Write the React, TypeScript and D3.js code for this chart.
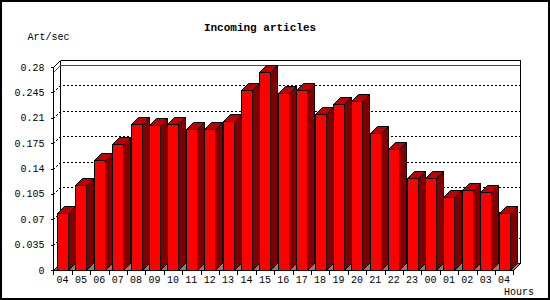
import React from "react";
import * as d3 from "d3";

const hours = ["04","05","06","07","08","09","10","11","12","13","14","15","16","17","18","19","20","21","22","23","00","01","02","03","04"];
const values = [0.0783,0.117,0.1515,0.174,0.201,0.2,0.201,0.194,0.194,0.2053,0.248,0.273,0.244,0.248,0.215,0.229,0.233,0.189,0.1666,0.1266,0.1266,0.1004,0.11,0.1073,0.0783];
const yTicks = [0,0.035,0.07,0.105,0.14,0.175,0.21,0.245,0.28];
const yTickLabels = ["0","0.035","0.07","0.105","0.14","0.175","0.21","0.245","0.28"];
const title = "Incoming articles";
const yTitle = "Art/sec";
const xTitle = "Hours";

const W = 550, H = 300;
const DX = 7, DY = 7;
const FONT = "'Liberation Mono', 'DejaVu Sans Mono', monospace";
const p = (v: number) => Math.round(v) + 0.5;

export default function App() {
  const idx = hours.map((_, i) => String(i));
  const x = d3.scaleBand<string>().domain(idx).range([53.3, 513.3]).padding(0);
  const y = d3.scaleLinear().domain([0, 0.28]).range([270, 67]);
  const left = p(x.range()[0]);
  const right = p(x.range()[1]);
  const base = p(y(0));
  const top = p(y(0.28));
  const maxV = d3.max(values) as number;
  const barW = 11;

  return (
    <svg width={W} height={H} style={{ position: "absolute", left: 0, top: 0, display: "block", background: "#fff" }}>
      <rect x={1} y={1} width={W - 2} height={H - 2} fill="#fff" stroke="#000" strokeWidth={2} />
      {/* back wall frame */}
      <g shapeRendering="crispEdges" stroke="#000" strokeWidth={1} fill="none">
        <line x1={left + DX} y1={top - DY} x2={right + DX} y2={top - DY} />
        <line x1={right + DX} y1={top - DY} x2={right + DX} y2={base - DY} />
        <line x1={left + DX} y1={top - DY} x2={left + DX} y2={base - DY} />
      </g>
      {/* gridlines */}
      <g stroke="#000" strokeWidth={1} fill="none" strokeDasharray="2,2">
        {yTicks.slice(1, -1).map((t, i) => {
          const yy = p(y(t));
          return <polyline key={i} points={`${left},${yy} ${left + DX},${yy - DY} ${right + DX},${yy - DY}`} shapeRendering="crispEdges" />;
        })}
      </g>
      {/* max line */}
      <polyline points={`${left},${p(y(maxV))} ${left + DX},${p(y(maxV)) - DY} ${right + DX},${p(y(maxV)) - DY}`} fill="none" stroke="#ff0000" strokeWidth={1} />
      {/* left wall top edge */}
      <line x1={left} y1={top} x2={left + DX} y2={top - DY} stroke="#000" strokeWidth={1} />
      {/* floor */}
      <polygon points={`${left},${base} ${right},${base} ${right + DX},${base - DY} ${left + DX},${base - DY}`} fill="#808080" stroke="#000" strokeWidth={1} />
      {/* bars */}
      <g stroke="#000" strokeWidth={1} strokeLinejoin="miter">
        {values.map((v, i) => {
          const cx = (x(String(i)) as number) + x.bandwidth() / 2;
          const x0 = p(cx - barW / 2);
          const x1 = x0 + barW;
          const yt = p(y(v));
          return (
            <g key={i}>
              <polygon points={`${x1},${yt} ${x1 + DX},${yt - DY} ${x1 + DX},${base - DY} ${x1},${base}`} fill="#800000" />
              <polygon points={`${x0},${yt} ${x0 + DX},${yt - DY} ${x1 + DX},${yt - DY} ${x1},${yt}`} fill="#c00000" />
              <rect x={x0} y={yt} width={barW} height={base - yt} fill="#ff0000" shapeRendering="crispEdges" />
            </g>
          );
        })}
      </g>
      {/* axes */}
      <g shapeRendering="crispEdges" stroke="#000" strokeWidth={1}>
        <line x1={left} y1={top} x2={left} y2={base + 0.5} />
        <line x1={left} y1={base} x2={right} y2={base} />
        {yTicks.map((t, i) => (
          <line key={"yt" + i} x1={left - 3} y1={p(y(t))} x2={left} y2={p(y(t))} />
        ))}
        {d3.range(hours.length + 1).map((i) => {
          const xx = p(53.3 + i * x.bandwidth());
          return <line key={"xt" + i} x1={xx} y1={base} x2={xx} y2={base + 4} />;
        })}
      </g>
      <line x1={right} y1={base} x2={right + DX} y2={base - DY} stroke="#000" strokeWidth={1} />
      {/* labels */}
      <g fontFamily={FONT} fontSize={10} fill="#000">
        {yTicks.map((t, i) => (
          <text key={"yl" + i} x={44.5} y={y(t) + 3.5} textAnchor="end">{yTickLabels[i]}</text>
        ))}
        {hours.map((h, i) => (
          <text key={"xl" + i} x={(x(String(i)) as number) + x.bandwidth() / 2} y={283} textAnchor="middle">{h}</text>
        ))}
        <text x={27.5} y={40}>{yTitle}</text>
        <text x={534} y={295} textAnchor="end">{xTitle}</text>
      </g>
      <text x={260} y={30.5} textAnchor="middle" fontFamily={FONT} fontSize={11} fontWeight="bold" fill="#000">{title}</text>
    </svg>
  );
}
